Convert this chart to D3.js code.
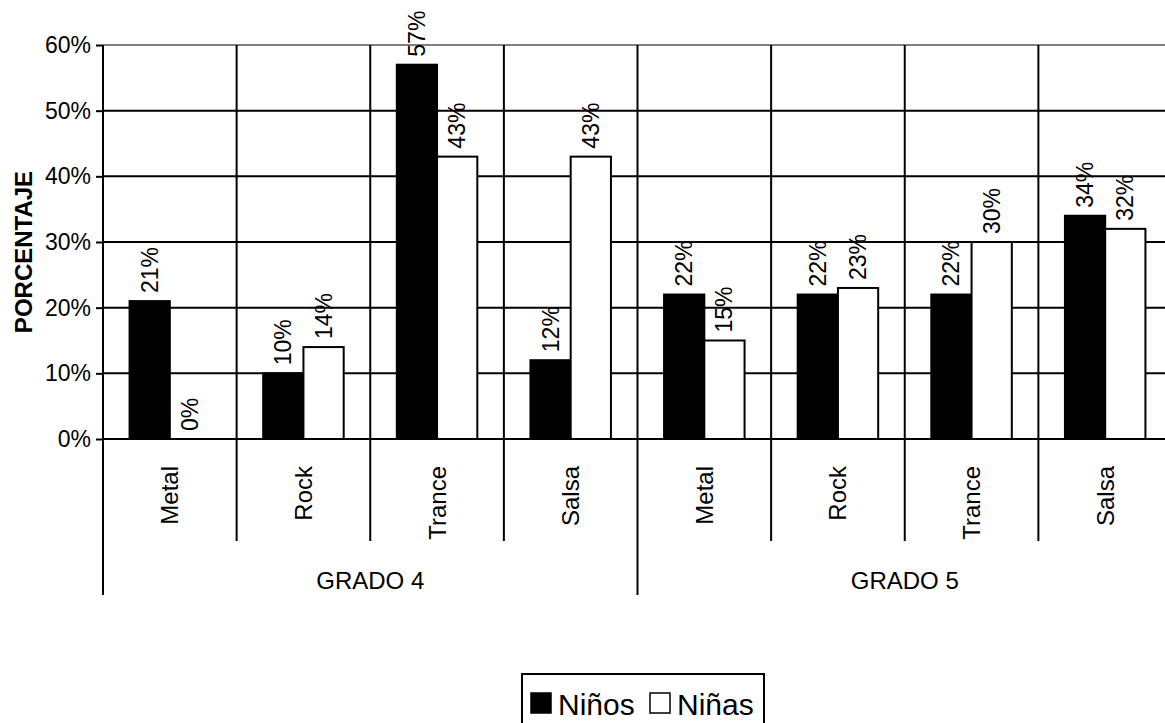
<!DOCTYPE html>
<html>
<head>
<meta charset="utf-8">
<script src="https://cdn.jsdelivr.net/npm/d3@7"></script>
<style>
  html, body { margin: 0; padding: 0; background: #fff; }
  svg { display: block; font-family: "Liberation Sans", Arial, sans-serif; }
</style>
</head>
<body>
<svg id="chart" width="1165" height="723"></svg>
<script>
// ---- data ----
const groups = ["GRADO 4", "GRADO 5"];
const genres = ["Metal", "Rock", "Trance", "Salsa"];
const seriesNames = ["Niños", "Niñas"];
const ninos = [0.21, 0.10, 0.57, 0.12, 0.22, 0.22, 0.22, 0.34];
const ninas = [0.00, 0.14, 0.43, 0.43, 0.15, 0.23, 0.30, 0.32];
const yTicks = [0, 0.1, 0.2, 0.3, 0.4, 0.5, 0.6];
const yTitle = "PORCENTAJE";

// ---- build table ----
const cats = [];
groups.forEach((g, gi) => genres.forEach((c, ci) => cats.push({ key: g + "|" + c, group: g, genre: c, idx: gi * genres.length + ci })));
const rows = cats.map(c => ({ ...c, values: [ninos[c.idx], ninas[c.idx]] }));

const svg = d3.select("#chart");
const plot = { left: 103, right: 1172, top: 45, bottom: 439 };

const y = d3.scaleLinear().domain([0, 0.6]).range([plot.bottom, plot.top]);
const x0 = d3.scaleBand().domain(cats.map(c => c.key)).range([plot.left, plot.right]).padding(0);
const x1 = d3.scaleBand().domain(seriesNames).range([0, x0.bandwidth()]).paddingInner(0).paddingOuter(0.66);
const xg = d3.scaleBand().domain(groups).range([plot.left, plot.right]).padding(0);

const lineW = 2;

// horizontal gridlines
svg.append("g").selectAll("line").data(yTicks.filter(t => t > 0)).join("line")
  .attr("x1", plot.left).attr("x2", plot.right)
  .attr("y1", d => y(d)).attr("y2", d => y(d))
  .attr("stroke", d => d === 0.6 ? "#808080" : "#000")
  .attr("stroke-width", lineW);

// vertical category separators (through plot and label area)
const catBounds = cats.slice(1).map(c => x0(c.key)).filter(v => !groups.slice(1).some(g => Math.abs(xg(g) - v) < 1));
svg.append("g").selectAll("line").data(catBounds).join("line")
  .attr("x1", d => d).attr("x2", d => d)
  .attr("y1", plot.top).attr("y2", 541)
  .attr("stroke", "#000").attr("stroke-width", lineW);

// group separators + left axis
const groupBounds = [plot.left].concat(groups.slice(1).map(g => xg(g)));
svg.append("g").selectAll("line").data(groupBounds).join("line")
  .attr("x1", d => d).attr("x2", d => d)
  .attr("y1", plot.top).attr("y2", 595)
  .attr("stroke", "#000").attr("stroke-width", lineW);

// bars
const barG = svg.append("g").selectAll("g").data(rows).join("g")
  .attr("transform", d => `translate(${x0(d.key)},0)`);
barG.selectAll("rect").data(d => d.values.map((v, i) => ({ v, s: seriesNames[i] }))).join("rect")
  .attr("x", d => x1(d.s))
  .attr("width", x1.bandwidth())
  .attr("y", d => y(d.v))
  .attr("height", d => y(0) - y(d.v))
  .attr("fill", d => d.s === "Niños" ? "#000" : "#fff")
  .attr("stroke", "#000").attr("stroke-width", lineW);

// x axis baseline
svg.append("line")
  .attr("x1", plot.left).attr("x2", plot.right)
  .attr("y1", y(0)).attr("y2", y(0))
  .attr("stroke", "#000").attr("stroke-width", lineW);

// data labels
barG.selectAll("text").data(d => d.values.map((v, i) => ({ v, s: seriesNames[i] }))).join("text")
  .attr("transform", d => `translate(${x1(d.s) + x1.bandwidth() / 2},${y(d.v) - 8}) rotate(-90)`)
  .attr("text-anchor", "start")
  .attr("dominant-baseline", "central")
  .attr("font-size", 23)
  .attr("fill", "#000")
  .text(d => Math.round(d.v * 100) + "%");

// y axis ticks and labels
const yAxis = d3.axisLeft(y).tickValues(yTicks).tickFormat(d => Math.round(d * 100) + "%").tickSize(7).tickPadding(5);
const ya = svg.append("g").attr("transform", `translate(${plot.left},0)`).call(yAxis);
ya.select(".domain").remove();
ya.selectAll(".tick line").attr("stroke", "#000").attr("stroke-width", lineW);
ya.selectAll(".tick text").attr("font-size", 23).attr("fill", "#000")
  .attr("font-family", "Liberation Sans, Arial, sans-serif");

// y title
svg.append("text")
  .attr("transform", `translate(23,${(plot.top + plot.bottom) / 2 + 10}) rotate(-90)`)
  .attr("text-anchor", "middle").attr("dominant-baseline", "central")
  .attr("font-size", 24).attr("font-weight", "bold")
  .text(yTitle);

// category labels
svg.append("g").selectAll("text").data(cats).join("text")
  .attr("transform", d => `translate(${x0(d.key) + x0.bandwidth() / 2},466) rotate(-90)`)
  .attr("text-anchor", "end").attr("dominant-baseline", "central")
  .attr("font-size", 24)
  .text(d => d.genre);

// group labels (centred on the first 4 / next 4 categories)
svg.append("g").selectAll("text").data(groups).join("text")
  .attr("x", d => xg(d) + xg.bandwidth() / 2)
  .attr("y", 580)
  .attr("text-anchor", "middle").attr("dominant-baseline", "central")
  .attr("font-size", 24)
  .text(d => d);

// legend
const leg = svg.append("g").attr("transform", "translate(522,674)");
leg.append("rect").attr("x", 0).attr("y", 0).attr("width", 242).attr("height", 54)
  .attr("fill", "#fff").attr("stroke", "#000").attr("stroke-width", lineW);
const legItems = [
  { name: seriesNames[0], fill: "#000", x: 9 },
  { name: seriesNames[1], fill: "#fff", x: 128 }
];
const li = leg.selectAll("g.item").data(legItems).join("g").attr("class", "item")
  .attr("transform", d => `translate(${d.x},0)`);
li.append("rect").attr("x", 0).attr("y", 19).attr("width", 20).attr("height", 20)
  .attr("fill", d => d.fill).attr("stroke", "#000").attr("stroke-width", 1.5);
li.append("text").attr("x", 27).attr("y", 41).attr("font-size", 30).text(d => d.name);
</script>
</body>
</html>
